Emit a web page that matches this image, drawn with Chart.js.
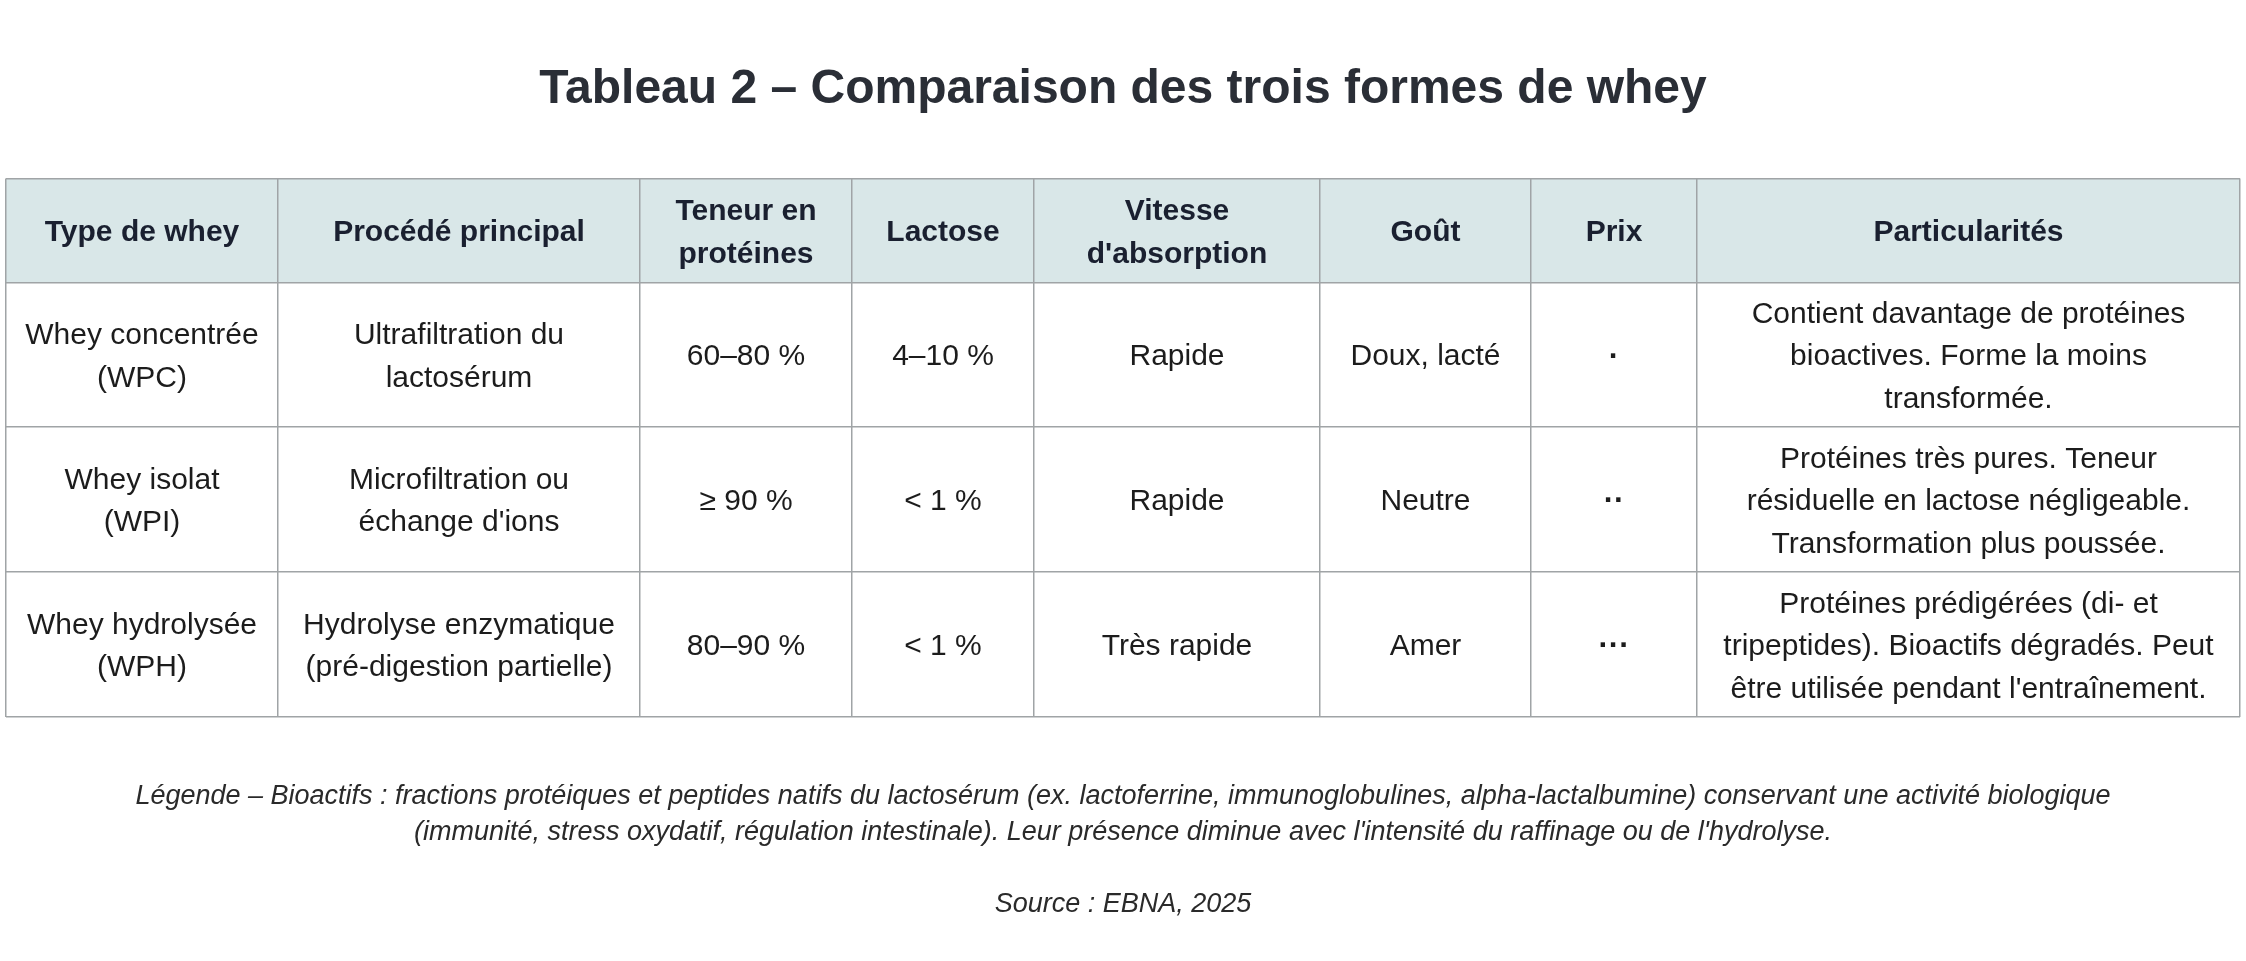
<!DOCTYPE html>
<html lang="fr">
<head>
<meta charset="utf-8">
<title>Tableau 2 – Comparaison des trois formes de whey</title>
<script src="https://cdn.jsdelivr.net/npm/chart.js@4.4.1/dist/chart.umd.min.js"></script>
<style>
  html, body { margin: 0; padding: 0; background: #ffffff; }
  #wrap { width: 2246px; height: 961px; position: relative; }
</style>
</head>
<body>
<div id="wrap"><canvas id="myChart"></canvas></div>
<script>
// Table content
const titleText = 'Tableau 2 – Comparaison des trois formes de whey';
const headers = ['Type de whey', 'Procédé principal', 'Teneur en\nprotéines', 'Lactose', "Vitesse\nd'absorption", 'Goût', 'Prix', 'Particularités'];
const wheyTypes = ['Whey concentrée\n(WPC)', 'Whey isolat\n(WPI)', 'Whey hydrolysée\n(WPH)'];
const procedes = ['Ultrafiltration du\nlactosérum', "Microfiltration ou\néchange d'ions", 'Hydrolyse enzymatique\n(pré-digestion partielle)'];
const proteines = ['60–80 %', '≥ 90 %', '80–90 %'];
const lactose = ['4–10 %', '< 1 %', '< 1 %'];
const vitesse = ['Rapide', 'Rapide', 'Très rapide'];
const gout = ['Doux, lacté', 'Neutre', 'Amer'];
const prix = ['·', '··', '···'];
const particularites = [
    'Contient davantage de protéines\nbioactives. Forme la moins\ntransformée.',
    'Protéines très pures. Teneur\nrésiduelle en lactose négligeable.\nTransformation plus poussée.',
    "Protéines prédigérées (di- et\ntripeptides). Bioactifs dégradés. Peut\nêtre utilisée pendant l'entraînement."
];
const legendLines = [
    'Légende – Bioactifs : fractions protéiques et peptides natifs du lactosérum (ex. lactoferrine, immunoglobulines, alpha-lactalbumine) conservant une activité biologique',
    "(immunité, stress oxydatif, régulation intestinale). Leur présence diminue avec l'intensité du raffinage ou de l'hydrolyse."
];
const sourceText = 'Source : EBNA, 2025';

// Layout (scale units)
const colWidths = [272, 362, 212, 182, 286, 211, 166, 543];
const rowHeights = [104, 144, 145, 145];

const FONT = "'Liberation Sans', Arial, Helvetica, sans-serif";

// Column-major -> row-major body
const bodyColumns = [wheyTypes, procedes, proteines, lactose, vitesse, gout, prix, particularites];
const bodyRows = wheyTypes.map((_, r) => bodyColumns.map(col => col[r]));

// Boundaries along both axes
const colEdges = [0];
colWidths.forEach(w => colEdges.push(colEdges[colEdges.length - 1] + w));
const rowEdges = [0];
rowHeights.forEach(h => rowEdges.push(rowEdges[rowEdges.length - 1] + h));

const tablePlugin = {
    id: 'tablePlugin',
    beforeDraw(chart) {
        // header background
        const { ctx, scales: { x, y } } = chart;
        const x0 = x.getPixelForValue(colEdges[0]);
        const x1 = x.getPixelForValue(colEdges[colEdges.length - 1]);
        const y0 = y.getPixelForValue(rowEdges[0]);
        const y1 = y.getPixelForValue(rowEdges[1]);
        ctx.save();
        ctx.fillStyle = '#d9e7e8';
        ctx.fillRect(x0, y0, x1 - x0, y1 - y0);
        ctx.restore();
    },
    afterDraw(chart) {
        const { ctx, scales: { x, y } } = chart;
        ctx.save();
        ctx.textAlign = 'center';
        ctx.textBaseline = 'middle';

        const drawCell = (text, c, r, font, color, lh) => {
            const cx = x.getPixelForValue((colEdges[c] + colEdges[c + 1]) / 2);
            const cy = y.getPixelForValue((rowEdges[r] + rowEdges[r + 1]) / 2) + 2.5;
            const lines = text.split('\n');
            ctx.font = font;
            ctx.fillStyle = color;
            lines.forEach((line, i) => {
                ctx.fillText(line, cx, cy + (i - (lines.length - 1) / 2) * lh);
            });
        };

        headers.forEach((h, c) => drawCell(h, c, 0, 'bold 30px ' + FONT, '#1a2030', 43));
        bodyRows.forEach((row, r) => {
            row.forEach((val, c) => {
                const f = c === 6 ? 'bold 31px ' + FONT : '30px ' + FONT;
                drawCell(val, c, r + 1, f, '#1c1c1c', 42.5);
            });
        });
        ctx.restore();
    }
};

const gridOpts = {
    color: '#a0a4a6',
    lineWidth: 1.5,
    drawTicks: false
};

const ctx = document.getElementById('myChart').getContext('2d');
const myChart = new Chart(ctx, {
    type: 'scatter',
    data: { datasets: [] },
    options: {
        responsive: true,
        maintainAspectRatio: false,
        animation: false,
        events: [],
        layout: { padding: { left: 6, right: 6, top: 0, bottom: 0 } },
        scales: {
            x: {
                type: 'linear',
                position: 'bottom',
                min: 0,
                max: colEdges[colEdges.length - 1],
                afterBuildTicks: scale => { scale.ticks = colEdges.map(v => ({ value: v })); },
                grid: gridOpts,
                border: { display: false },
                ticks: { display: false }
            },
            y: {
                type: 'linear',
                reverse: true,
                min: 0,
                max: rowEdges[rowEdges.length - 1],
                afterBuildTicks: scale => { scale.ticks = rowEdges.map(v => ({ value: v })); },
                grid: gridOpts,
                border: { display: false },
                ticks: { display: false }
            }
        },
        plugins: {
            legend: { display: false },
            tooltip: { enabled: false },
            title: {
                display: true,
                text: titleText,
                color: '#2a2e36',
                font: { family: FONT, size: 48, weight: 'bold', lineHeight: 1.2 },
                padding: { top: 61, bottom: 60 }
            },
            subtitle: {
                display: true,
                position: 'bottom',
                text: [legendLines[0], legendLines[1], '', sourceText],
                color: '#2a2a2a',
                font: { family: FONT, size: 27, style: 'italic', lineHeight: 1.3333 },
                padding: { top: 61, bottom: 39 }
            }
        }
    },
    plugins: [tablePlugin]
});
</script>
</body>
</html>
